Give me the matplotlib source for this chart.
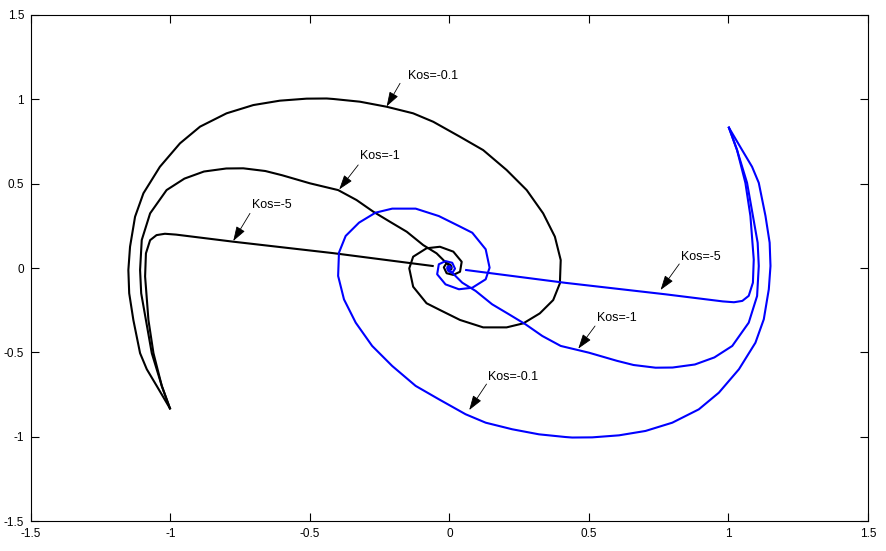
import matplotlib
matplotlib.use('Agg')
import matplotlib.pyplot as plt

plt.rcParams['font.family'] = ['Liberation Sans', 'DejaVu Sans']

# black trajectories (start at -1, -0.83)
k01_black_x = [-1.002, -1.049, -1.085, -1.109, -1.133, -1.148, -1.151, -1.145, -1.127, -1.097,
               -1.038, -0.966, -0.894, -0.799, -0.703, -0.608, -0.512, -0.440, -0.416, -0.321,
               -0.225, -0.130, -0.058, 0.038, 0.121, 0.205, 0.277, 0.336, 0.378, 0.399,
               0.396, 0.372, 0.324, 0.265, 0.205, 0.121, 0.038, -0.034, -0.082, -0.130,
               -0.144, -0.130, -0.082, -0.034, 0.014, 0.044, 0.038, 0.014, -0.010, -0.020,
               -0.010, 0.004, 0.008, 0.002]
k01_black_y = [-0.832, -0.700, -0.600, -0.505, -0.309, -0.150, -0.012, 0.126, 0.304, 0.443,
               0.600, 0.739, 0.838, 0.917, 0.966, 0.992, 1.004, 1.005, 1.002, 0.986,
               0.956, 0.917, 0.867, 0.778, 0.699, 0.581, 0.462, 0.324, 0.186, 0.047,
               -0.091, -0.190, -0.269, -0.328, -0.352, -0.352, -0.308, -0.249, -0.209, -0.111,
               -0.002, 0.067, 0.117, 0.126, 0.097, 0.037, -0.022, -0.041, -0.031, 0.004,
               0.030, 0.018, 0.004, 0.000]

k1_black_x = [-1.002, -1.031, -1.067, -1.088, -1.105, -1.109, -1.103, -1.073, -1.014, -0.950,
              -0.880, -0.800, -0.739, -0.660, -0.600, -0.500, -0.399, -0.333, -0.273, -0.213,
              -0.153, -0.094, -0.046, -0.004, 0.008, 0.000, -0.006, 0.000]
k1_black_y = [-0.832, -0.700, -0.505, -0.309, -0.150, -0.012, 0.166, 0.324, 0.462, 0.530,
              0.572, 0.590, 0.591, 0.575, 0.550, 0.502, 0.462, 0.403, 0.334, 0.274,
              0.215, 0.136, 0.087, 0.018, -0.005, -0.012, -0.002, 0.000]

k5_black_x = [-1.002, -1.031, -1.061, -1.079, -1.091, -1.088, -1.073, -1.050, -1.020, -0.980,
              -0.775, -0.416, -0.060]
k5_black_y = [-0.832, -0.700, -0.505, -0.309, -0.050, 0.087, 0.165, 0.195, 0.203, 0.198,
              0.156, 0.088, 0.012]

# blue trajectories (start at 1, 0.83)
k01_blue_x = [1.002, 1.049, 1.085, 1.109, 1.133, 1.148, 1.151, 1.145, 1.127, 1.097,
              1.038, 0.966, 0.894, 0.799, 0.703, 0.608, 0.512, 0.440, 0.416, 0.321,
              0.225, 0.130, 0.058, -0.038, -0.121, -0.205, -0.277, -0.336, -0.378, -0.399,
              -0.396, -0.372, -0.324, -0.265, -0.205, -0.121, -0.038, 0.034, 0.082, 0.130,
              0.144, 0.130, 0.082, 0.034, -0.014, -0.044, -0.038, -0.014, 0.010, 0.020,
              0.010, -0.004, -0.008, -0.002]
k01_blue_y = [0.832, 0.700, 0.600, 0.505, 0.309, 0.150, 0.012, -0.126, -0.304, -0.443,
              -0.600, -0.739, -0.838, -0.917, -0.966, -0.992, -1.004, -1.005, -1.002, -0.986,
              -0.956, -0.917, -0.867, -0.778, -0.699, -0.581, -0.462, -0.324, -0.186, -0.047,
              0.091, 0.190, 0.269, 0.328, 0.352, 0.352, 0.308, 0.249, 0.209, 0.111,
              0.002, -0.067, -0.117, -0.126, -0.097, -0.037, 0.022, 0.041, 0.031, -0.004,
              -0.030, -0.018, -0.004, 0.000]

k1_blue_x = [1.002, 1.031, 1.067, 1.088, 1.105, 1.109, 1.103, 1.073, 1.014, 0.950,
             0.880, 0.800, 0.739, 0.660, 0.600, 0.500, 0.399, 0.333, 0.273, 0.213,
             0.153, 0.094, 0.046, 0.004, -0.008, 0.000, 0.006, 0.000]
k1_blue_y = [0.832, 0.700, 0.505, 0.309, 0.150, 0.012, -0.166, -0.324, -0.462, -0.530,
             -0.572, -0.590, -0.591, -0.575, -0.550, -0.502, -0.462, -0.403, -0.334, -0.274,
             -0.215, -0.136, -0.087, -0.018, 0.005, 0.012, 0.002, 0.000]

k5_blue_x = [1.002, 1.031, 1.061, 1.079, 1.091, 1.088, 1.073, 1.050, 1.020, 0.980,
             0.775, 0.416, 0.060]
k5_blue_y = [0.832, 0.700, 0.505, 0.309, 0.050, -0.087, -0.165, -0.195, -0.203, -0.198,
             -0.156, -0.088, -0.012]

# labels: text, text pos, arrow tail, arrow tip
labels = ['Kos=-0.1', 'Kos=-1', 'Kos=-5', 'Kos=-5', 'Kos=-1', 'Kos=-0.1']
text_pos = [(-0.149, 1.14), (-0.321, 0.664), (-0.709, 0.373),
            (0.829, 0.067), (0.528, -0.298), (0.137, -0.644)]
arrow_tail = [(-0.177, 1.095), (-0.327, 0.611), (-0.715, 0.324),
              (0.824, 0.024), (0.522, -0.344), (0.133, -0.688)]
arrow_tip = [(-0.225, 0.958), (-0.395, 0.466), (-0.775, 0.160),
             (0.757, -0.130), (0.462, -0.478), (0.071, -0.842)]

xticks = [-1.5, -1, -0.5, 0, 0.5, 1, 1.5]
xtick_labels = ['-1.5', '-1', '-0.5', '0', '0.5', '1', '1.5']
yticks = [-1.5, -1, -0.5, 0, 0.5, 1, 1.5]
ytick_labels = ['-1.5', '-1', '-0.5', '0', '0.5', '1', '1.5']

fig = plt.figure(figsize=(8.86, 5.51), dpi=100)
ax = fig.add_axes([0.035, 0.0544, 0.9445, 0.9184])

lw = 1.5
ax.plot(k01_black_x, k01_black_y, color='k', lw=lw)
ax.plot(k1_black_x, k1_black_y, color='k', lw=lw)
ax.plot(k5_black_x, k5_black_y, color='k', lw=lw)
ax.plot(k01_blue_x, k01_blue_y, color='#0000ff', lw=lw)
ax.plot(k1_blue_x, k1_blue_y, color='#0000ff', lw=lw)
ax.plot(k5_blue_x, k5_blue_y, color='#0000ff', lw=lw)

for lab, tp, tail, tip in zip(labels, text_pos, arrow_tail, arrow_tip):
    ax.annotate('', xy=tip, xytext=tail,
                arrowprops=dict(arrowstyle='-|>,head_length=0.9,head_width=0.3',
                                color='k', lw=0.6, shrinkA=0, shrinkB=0))
    ax.text(tp[0], tp[1], lab, fontsize=9, ha='left', va='center')

ax.set_xlim(-1.5, 1.5)
ax.set_ylim(-1.5, 1.5)
ax.set_xticks(xticks)
ax.set_xticklabels(xtick_labels)
ax.set_yticks(yticks)
ax.set_yticklabels(ytick_labels)
ax.tick_params(direction='in', top=True, right=True, length=5.5, width=0.8,
               labelsize=8.5, pad=5)
for s in ax.spines.values():
    s.set_linewidth(0.8)

fig.savefig('out.png', dpi=100)
